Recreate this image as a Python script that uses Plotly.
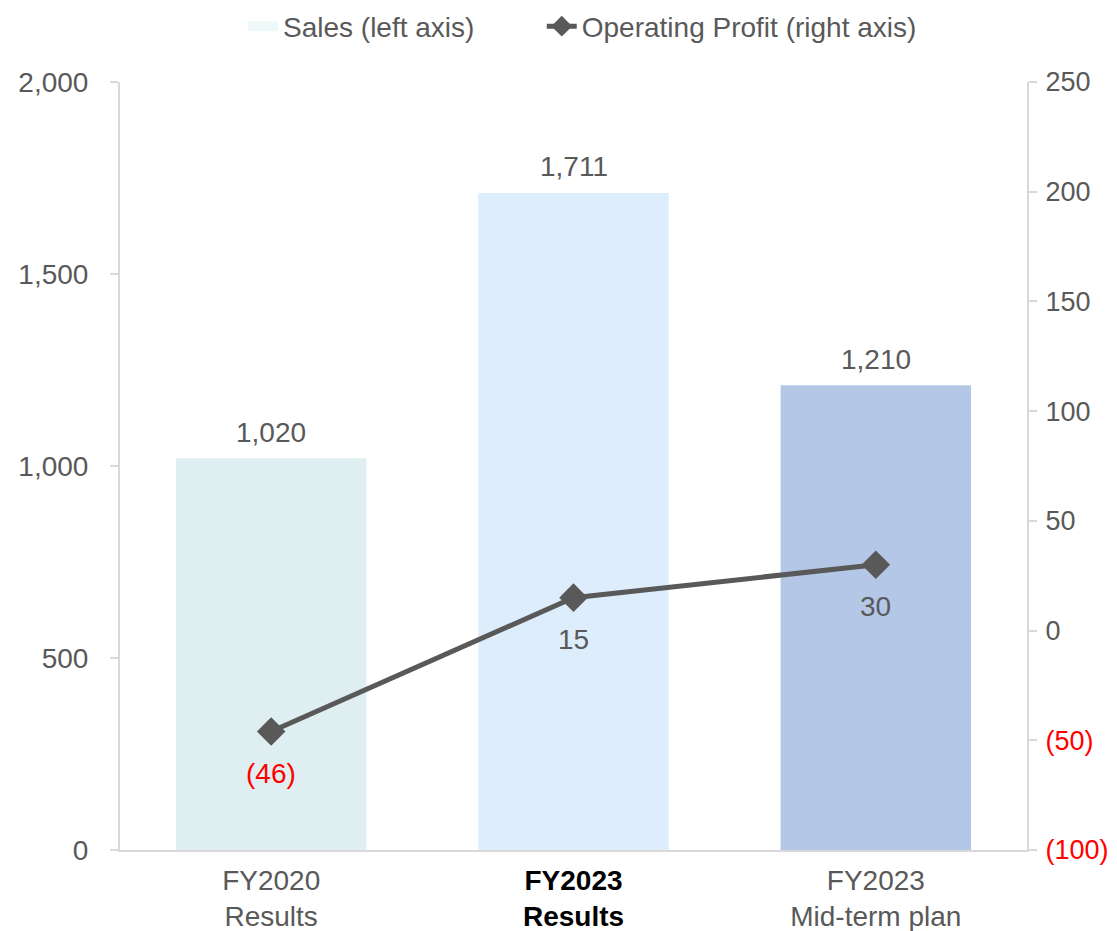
import plotly.graph_objects as go

categories = ["FY2020<br>Results", "<b>FY2023<br>Results</b>", "FY2023<br>Mid-term plan"]
cat_colors = ["#595959", "#000000", "#595959"]
sales = [1020, 1711, 1210]
profit = [-46, 15, 30]
bar_colors = ["#DFEEF0", "#DDEDFC", "#B4C7E7"]
legend_swatch = "#EEF8F8"
left_ticks = [0, 500, 1000, 1500, 2000]
right_ticks = [-100, -50, 0, 50, 100, 150, 200, 250]

def fmt_num(v):
    return f"({abs(v):,})" if v < 0 else f"{v:,}"

def fmt_tick(v):
    s = fmt_num(v)
    return f"<span style='color:#FF0000'>{s}</span>" if v < 0 else s

x = list(range(len(categories)))
GRAY = "#595959"
FONT = "Liberation Sans, Arial, sans-serif"
FS = 28

fig = go.Figure()
fig.add_trace(go.Bar(
    x=x, y=sales, name="Sales (left axis)", showlegend=False,
    marker=dict(color=bar_colors, line=dict(width=0)),
    width=0.63,
))
# legend entry for sales (wide swatch like the reference)
fig.add_trace(go.Scatter(
    x=[None], y=[None], mode="lines", name="Sales (left axis)",
    line=dict(color=legend_swatch, width=16), legend="legend",
))
fig.add_trace(go.Scatter(
    x=x, y=profit, yaxis="y2", name="Operating Profit (right axis)",
    mode="lines+markers",
    line=dict(color=GRAY, width=5),
    marker=dict(symbol="diamond", size=22, color=GRAY),
    legend="legend2",
))

for xi, v in zip(x, sales):
    fig.add_annotation(
        x=xi, y=v, xref="x", yref="y", text=fmt_num(v), showarrow=False,
        yshift=26, font=dict(size=FS, family=FONT, color=GRAY),
    )
for xi, v in zip(x, profit):
    fig.add_annotation(
        x=xi, y=v, xref="x", yref="y2", text=fmt_num(v), showarrow=False,
        yshift=-42, font=dict(size=FS, family=FONT, color="#FF0000" if v < 0 else GRAY),
    )

legend_common = dict(orientation="h", xanchor="left", yref="container",
                     y=0.98, yanchor="middle", font=dict(size=FS, color=GRAY),
                     bgcolor="rgba(0,0,0,0)")

fig.update_layout(
    width=1109, height=923,
    margin=dict(l=112, r=90, t=74, b=81, autoexpand=False),
    paper_bgcolor="white", plot_bgcolor="white",
    font=dict(family=FONT, size=FS, color=GRAY),
    showlegend=True,
    legend=dict(x=0.1356, **legend_common),
    legend2=dict(x=0.465, **legend_common),
    xaxis=dict(
        tickmode="array", tickvals=x,
        ticktext=[f"<span style='color:{c}'>{t}</span>" for t, c in zip(categories, cat_colors)],
        range=[-0.5, 2.5], showline=True, linecolor="#D9D9D9", linewidth=2,
        ticks="", showgrid=False, zeroline=False, automargin=False,
        ticklabelstandoff=4,
        tickfont=dict(size=FS, color=GRAY),
    ),
    yaxis=dict(
        range=[0, 2000], tickmode="array", tickvals=left_ticks,
        ticktext=[fmt_num(v) for v in left_ticks],
        showline=True, linecolor="#D9D9D9", linewidth=2,
        ticks="outside", ticklen=8, tickcolor="#D9D9D9", tickwidth=2,
        showgrid=False, zeroline=False, automargin=False,
        ticklabelstandoff=16,
        tickfont=dict(size=FS, color=GRAY),
    ),
    yaxis2=dict(
        range=[-100, 250], overlaying="y", side="right",
        tickmode="array", tickvals=right_ticks,
        ticktext=[fmt_tick(v) for v in right_ticks],
        showline=True, linecolor="#D9D9D9", linewidth=2,
        ticks="outside", ticklen=8, tickcolor="#D9D9D9", tickwidth=2,
        showgrid=False, zeroline=False, automargin=False,
        ticklabelstandoff=3,
        tickfont=dict(size=27, color=GRAY),
    ),
)

fig.write_html("out.html")
